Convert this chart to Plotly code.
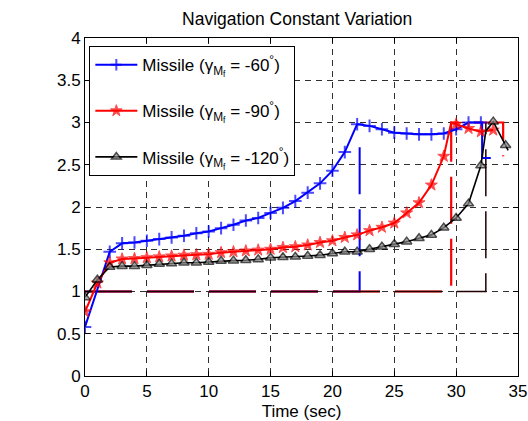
import plotly.graph_objects as go

# ---------------- data ----------------
blue_t = [0, 2, 3, 4, 5, 6, 7, 8, 9, 10, 11, 12, 13, 14, 15, 16, 17, 18, 19, 20,
          21, 22, 23, 24, 25, 26, 27, 28, 29, 30, 31, 32]
blue_y = [0.58, 1.47, 1.57, 1.58, 1.60, 1.62, 1.64, 1.66, 1.69, 1.71, 1.75, 1.79,
          1.84, 1.87, 1.93, 1.99, 2.07, 2.17, 2.28, 2.43, 2.65, 2.98, 2.96, 2.92,
          2.88, 2.87, 2.86, 2.86, 2.87, 2.92, 3.0, 3.0]
blue_tail_t = [32.1, 32.1, 32.8]
blue_tail_y = [3.0, 2.58, 2.58]

red_t = [0, 1, 2, 3, 4, 5, 6, 7, 8, 9, 10, 11, 12, 13, 14, 15, 16, 17, 18, 19,
         20, 21, 22, 23, 24, 25, 26, 27, 28, 29, 29.6, 30, 31, 32, 33]
red_y = [0.76, 1.10, 1.34, 1.385, 1.39, 1.40, 1.41, 1.42, 1.43, 1.435, 1.44, 1.46,
         1.47, 1.48, 1.49, 1.50, 1.52, 1.53, 1.55, 1.58, 1.60, 1.64, 1.67, 1.72,
         1.76, 1.81, 1.93, 2.05, 2.26, 2.60, 3.0, 2.98, 2.93, 2.89, 2.91]
red_marked = [True] * 30 + [False] + [True] * 4

black_t = [0, 1, 2, 3, 4, 5, 6, 7, 8, 9, 10, 11, 12, 13, 14, 15, 16, 17, 18, 19,
           20, 21, 22, 23, 24, 25, 26, 27, 28, 29, 30, 31, 32, 32.4, 33, 34, 34.2]
black_y = [0.93, 1.14, 1.29, 1.30, 1.30, 1.31, 1.325, 1.33, 1.34, 1.34, 1.35, 1.36,
           1.365, 1.37, 1.38, 1.40, 1.405, 1.41, 1.42, 1.43, 1.45, 1.47, 1.47, 1.50,
           1.53, 1.56, 1.59, 1.63, 1.67, 1.755, 1.87, 2.04, 2.49, 2.90, 3.01, 2.73, 2.67]
black_marked = [True] * 33 + [False, True, True, False]

# switching (dashed) curves
red_sw_t = [0, 29.6, 29.6, 33.8, 33.8]
red_sw_y = [1, 1, 3.0, 3.0, 2.6]
blue_sw_t = [0, 22.2, 22.2]
blue_sw_y = [1, 1, 2.8]
black_sw_t = [0, 32.4, 32.4]
black_sw_y = [1, 1, 3.0]

labels = ["Missile (γ<sub>M<sub>f</sub></sub> = -60<sup>°</sup>)",
          "Missile (γ<sub>M<sub>f</sub></sub> = -90<sup>°</sup>)",
          "Missile (γ<sub>M<sub>f</sub></sub> = -120<sup>°</sup>)"]

FONT = "Liberation Sans, Arial, sans-serif"
DASH = "47px,15px"

fig = go.Figure()

# dashed switching lines (under)
fig.add_trace(go.Scatter(x=blue_sw_t, y=blue_sw_y, mode="lines", showlegend=False,
                         line=dict(color="blue", width=2, dash=DASH)))
fig.add_trace(go.Scatter(x=red_sw_t, y=red_sw_y, mode="lines", showlegend=False,
                         line=dict(color="red", width=2.2, dash=DASH)))
fig.add_trace(go.Scatter(x=black_sw_t, y=black_sw_y, mode="lines", showlegend=False,
                         line=dict(color="#200000", width=1.5, dash=DASH)))

# main curves
bx = blue_t + blue_tail_t
by = blue_y + blue_tail_y
bs = [9] * len(blue_t) + [0] * len(blue_tail_t)
fig.add_trace(go.Scatter(x=bx, y=by, mode="lines+markers", name=labels[0],
                         legendgroup="a",
                         line=dict(color="blue", width=2),
                         marker=dict(symbol="cross-thin", size=bs,
                                     line=dict(color="blue", width=2))))
fig.add_trace(go.Scatter(x=red_t, y=red_y, mode="lines+markers", name=labels[1],
                         legendgroup="b",
                         line=dict(color="red", width=2),
                         marker=dict(symbol="star", size=[9 if m else 0 for m in red_marked],
                                     color="red", line=dict(color="red", width=1))))
fig.add_trace(go.Scatter(x=black_t, y=black_y, mode="lines+markers", name=labels[2],
                         legendgroup="c",
                         line=dict(color="black", width=1.6),
                         marker=dict(symbol="triangle-up", size=[9 if m else 0 for m in black_marked],
                                     color="#8a8a8a", line=dict(color="black", width=1.5))))

axis_common = dict(showline=True, linecolor="black", linewidth=1, mirror="allticks",
                   ticks="inside", ticklen=5, tickcolor="black", automargin=False,
                   showgrid=True, gridcolor="#303030", gridwidth=1, griddash="6px,5px",
                   zeroline=False, tickfont=dict(family=FONT, size=17, color="black"))

fig.update_layout(
    width=528, height=421,
    margin=dict(l=85, r=10, t=38, b=45),
    paper_bgcolor="white", plot_bgcolor="white",
    font=dict(family=FONT, size=17, color="black"),
    title=dict(text="Navigation Constant Variation", xref="paper", x=0.49,
               xanchor="center", yref="container", y=1 - 19 / 421, yanchor="middle",
               font=dict(family=FONT, size=17.5, color="black")),
    xaxis=dict(range=[0, 35], dtick=5, tick0=0,
               title=dict(text="Time (sec)", standoff=6,
                          font=dict(family=FONT, size=17, color="black")),
               **axis_common),
    yaxis=dict(range=[0, 4], dtick=0.5, tick0=0, **axis_common),
    legend=dict(x=0.01, y=0.976, xanchor="left", yanchor="top",
                bgcolor="white", bordercolor="black", borderwidth=1,
                font=dict(family=FONT, size=17, color="black"),
                tracegroupgap=21, itemwidth=42),
)

fig.write_html("out.html")
